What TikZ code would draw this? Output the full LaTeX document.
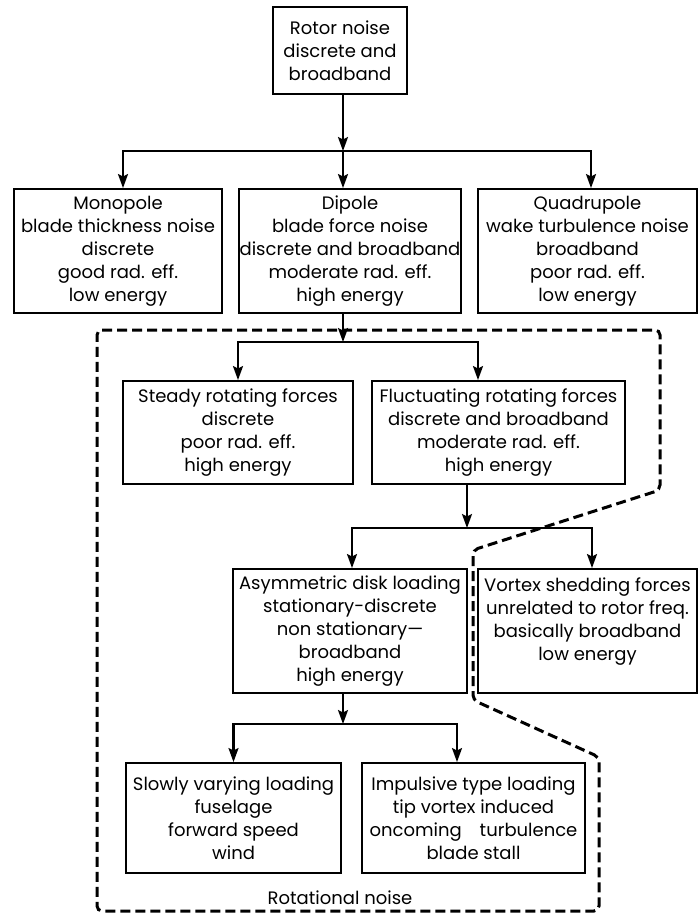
\documentclass[tikz,border=0pt]{standalone}
\usepackage{fontspec}
\setmainfont{Poppins}
\usetikzlibrary{arrows.meta}
\tikzset{
  box/.style={draw, line width=1.9pt, inner sep=0pt, align=center,
    font=\fontsize{18}{23}\selectfont},
  link/.style={line width=2.1pt},
  arr/.style={line width=2.1pt, -{Stealth[length=14pt,width=10pt,inset=2.5pt]}},
  zone/.style={line width=3pt, dash pattern=on 10pt off 5pt, rounded corners=5pt},
  caption/.style={font=\fontsize{18}{23}\selectfont, inner sep=0pt}
}
\begin{document}
\begin{tikzpicture}[x=1pt,y=-1pt]
\useasboundingbox (0,0) rectangle (698,916);
\fill[white] (0,0) rectangle (698,916);

% boxes
\node[box, minimum width=134pt, minimum height=87pt] (rotor) at (340,50.5)
  {Rotor noise\\discrete and\\broadband};
\node[box, minimum width=208pt, minimum height=124pt] (mono) at (118,251)
  {Monopole\\blade thickness noise\\discrete\\good rad. eff.\\low energy};
\node[box, minimum width=222pt, minimum height=124pt] (dip) at (350,251)
  {Dipole\\blade force noise\\discrete and broadband\\moderate rad. eff.\\high energy};
\node[box, minimum width=219pt, minimum height=124pt] (quad) at (587.5,251)
  {Quadrupole\\wake turbulence noise\\broadband\\poor rad. eff.\\low energy};
\node[box, minimum width=230pt, minimum height=103pt] (steady) at (238,432.5)
  {Steady rotating forces\\discrete\\poor rad. eff.\\high energy};
\node[box, minimum width=253pt, minimum height=103pt] (fluct) at (498.5,432.5)
  {Fluctuating rotating forces\\discrete and broadband\\moderate rad. eff.\\high energy};
\node[box, minimum width=234pt, minimum height=124pt] (asym) at (350,631)
  {Asymmetric disk loading\\stationary-discrete\\non stationary---\\broadband\\high energy};
\node[box, minimum width=219pt, minimum height=124pt] (vortex) at (587.5,631)
  {Vortex shedding forces\\unrelated to rotor freq.\\basically broadband\\low energy\\\mbox{}};
\node[box, minimum width=215pt, minimum height=110pt] (slow) at (233.5,818)
  {Slowly varying loading\\fuselage\\forward speed\\wind};
\node[box, minimum width=223pt, minimum height=110pt] (imp) at (473.5,818)
  {Impulsive type loading\\tip vortex induced\\oncoming\quad turbulence\\blade stall};
\node[caption] (rotlabel) at (340,898) {Rotational noise};

% junction points
\coordinate (j1) at (343,151);
\coordinate (j2) at (343,342);
\coordinate (j3) at (467,528);
\coordinate (j4) at (343,724);

% level 1
\draw[arr] (rotor.south -| j1) -- (j1);
\draw[arr] (j1) -| ([xshift=5pt]mono.north);
\draw[arr] (j1) -- (j1 |- dip.north);
\draw[arr] (j1) -| ([xshift=3.5pt]quad.north);

% level 2
\draw[arr] (dip.south -| j2) -- (j2);
\draw[arr] (j2) -| (steady.north);
\draw[arr] (j2) -| ([xshift=-20.5pt]fluct.north);

% level 3
\draw[arr] (fluct.south -| j3) -- (j3);
\draw[arr] (j3) -| ([xshift=2pt]asym.north);
\draw[arr] (j3) -| ([xshift=4.5pt]vortex.north);

% level 4
\draw[arr] (asym.south -| j4) -- (j4);
\draw[arr] (j4) -| (slow.north);
\draw[arr] (j4) -| ([xshift=-16.5pt]imp.north);

% dashed rotational-noise zone
\draw[zone] (97,330) -- (660,330) -- (660,490) -- (473,550) -- (473,700)
  -- (599,757) -- (599,911) -- (97,911) -- cycle;
\end{tikzpicture}
\end{document}
